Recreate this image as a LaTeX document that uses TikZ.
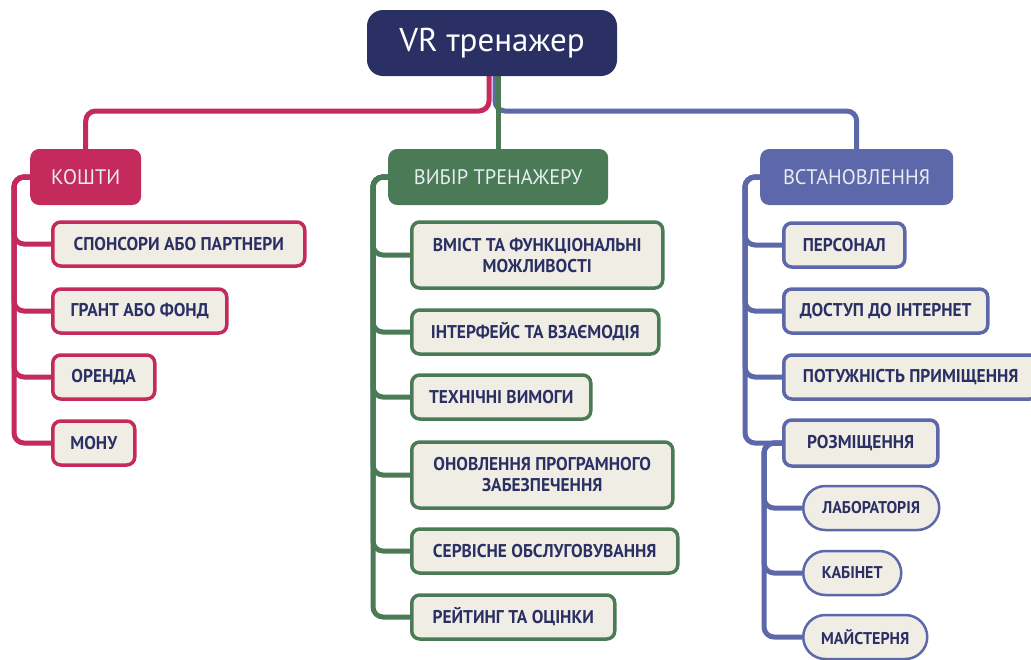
\documentclass[tikz,border=0pt]{standalone}
\usepackage{fontspec}
\setmainfont{PT Sans}
\newfontfamily\leaffont[FakeStretch=0.94]{PT Sans}
\newfontfamily\catfont[FakeStretch=0.97]{PT Sans}
\usetikzlibrary{calc,backgrounds,shapes.misc}
\definecolor{navy}{HTML}{2B3064}
\definecolor{crimson}{HTML}{C42A5B}
\definecolor{dgreen}{HTML}{4B7A56}
\definecolor{pblue}{HTML}{5C68AA}
\definecolor{beige}{HTML}{F0EDE5}
\definecolor{cattext}{HTML}{E6EEF2}
\begin{document}
\begin{tikzpicture}[x=1pt,y=-1pt,
  conn/.style={line width=5pt, draw=#1, rounded corners=10pt},
  rootbox/.style={fill=navy, rounded corners=16pt, minimum width=250pt, minimum height=66pt, text=white, font=\fontsize{33}{36}\selectfont, inner sep=0pt},
  cat/.style={fill=#1, rounded corners=9pt, anchor=west, minimum height=56pt, text=cattext, font=\catfont\fontsize{21}{24}\selectfont, inner sep=0pt},
  leaf/.style={draw=#1, line width=3.5pt, fill=beige, rounded corners=8pt, anchor=west, minimum height=44pt, text=navy, font=\leaffont\bfseries\fontsize{18.5}{21}\selectfont, align=center, inner sep=0pt},
  pill/.style={draw=pblue, line width=2.5pt, fill=beige, rounded rectangle, anchor=west, minimum height=44pt, text=navy, font=\leaffont\bfseries\fontsize{17}{19}\selectfont, inner sep=0pt}
]
\useasboundingbox (0,0) rectangle (1031,659);
% root
\node[rootbox] (root) at (492,43) {VR тренажер};
% categories
\node[cat=crimson, minimum width=111pt] (kosh) at (30,177) {КОШТИ};
\node[cat=dgreen, minimum width=220pt] (vyb) at (388,177) {ВИБІР ТРЕНАЖЕРУ};
\node[cat=pblue, minimum width=193pt] (vst) at (760,177) {ВСТАНОВЛЕННЯ};
% left leaves
\node[leaf=crimson, minimum width=252pt] (k1) at (51,244) {СПОНСОРИ АБО ПАРТНЕРИ};
\node[leaf=crimson, minimum width=174pt] (k2) at (51,311) {ГРАНТ АБО ФОНД};
\node[leaf=crimson, minimum width=102pt] (k3) at (51,377) {ОРЕНДА};
\node[leaf=crimson, minimum width=82pt] (k4) at (51,443) {МОНУ};
% middle leaves
\node[leaf=dgreen, minimum width=251pt, minimum height=66pt] (m1) at (410,255) {ВМІСТ ТА ФУНКЦІОНАЛЬНІ\\МОЖЛИВОСТІ};
\node[leaf=dgreen, minimum width=247pt] (m2) at (410,332) {ІНТЕРФЕЙС ТА ВЗАЄМОДІЯ};
\node[leaf=dgreen, minimum width=179pt] (m3) at (410,397) {ТЕХНІЧНІ ВИМОГИ};
\node[leaf=dgreen, minimum width=261pt, minimum height=66pt] (m4) at (410,475) {ОНОВЛЕННЯ ПРОГРАМНОГО\\ЗАБЕЗПЕЧЕННЯ};
\node[leaf=dgreen, minimum width=266pt] (m5) at (410,551) {СЕРВІСНЕ ОБСЛУГОВУВАННЯ};
\node[leaf=dgreen, minimum width=203pt] (m6) at (410,617) {РЕЙТИНГ ТА ОЦІНКИ};
% right leaves
\node[leaf=pblue, minimum width=121pt] (r1) at (782,245) {ПЕРСОНАЛ};
\node[leaf=pblue, minimum width=204pt] (r2) at (782,311) {ДОСТУП ДО ІНТЕРНЕТ};
\node[leaf=pblue, minimum width=254pt] (r3) at (782,377) {ПОТУЖНІСТЬ ПРИМІЩЕННЯ};
\node[leaf=pblue, minimum width=154pt, minimum height=46pt] (r4) at (782,443) {РОЗМІЩЕННЯ};
\node[pill, minimum width=136pt] (s1) at (802,508) {ЛАБОРАТОРІЯ};
\node[pill, minimum width=98pt] (s2) at (802,573) {КАБІНЕТ};
\node[pill, minimum width=124pt] (s3) at (802,637) {МАЙСТЕРНЯ};
% trunk coordinates
\coordinate (hy) at (0,111);
\coordinate (kt) at (14,0);
\coordinate (mt) at (373,0);
\coordinate (rt) at (745,0);
\coordinate (st) at (764,0);
\begin{scope}[on background layer]
  \fill[white] (0,0) rectangle (1031,659);
  \draw[conn=crimson] ($(root.south)+(-3,0)$) |- (kosh.north |- hy) -- (kosh.north);
  \draw[conn=pblue] ($(root.south)+(3,0)$) |- (vst.north |- hy) -- (vst.north);
  \draw[conn=dgreen] (root.south -| vyb.north) -- (vyb.north);
  \foreach \c in {k1,k2,k3,k4} \draw[conn=crimson] (kosh.west) -| (kt |- \c.west) -- (\c.west);
  \foreach \c in {m1,m2,m3,m4,m5,m6} \draw[conn=dgreen] (vyb.west) -| (mt |- \c.west) -- (\c.west);
  \foreach \c in {r1,r2,r3,r4} \draw[conn=pblue] (vst.west) -| (rt |- \c.west) -- (\c.west);
  \foreach \c in {s1,s2,s3} \draw[conn=pblue] (r4.west) -| (st |- \c.west) -- (\c.west);
\end{scope}
\end{tikzpicture}
\end{document}
